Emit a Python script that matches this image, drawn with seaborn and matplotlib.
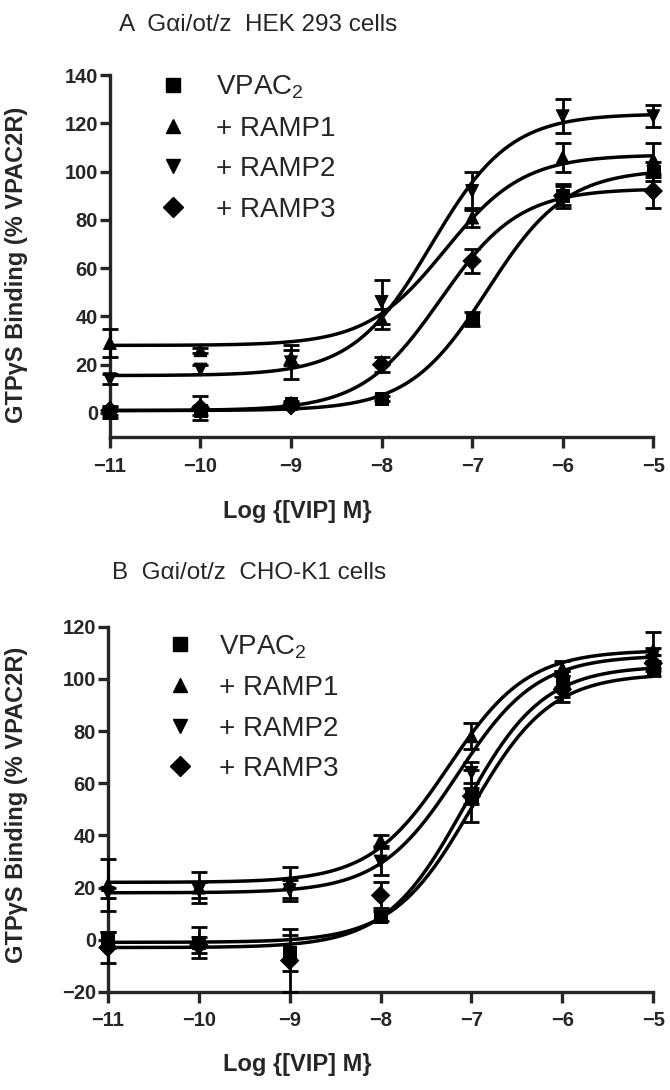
import numpy as np
import pandas as pd
import seaborn as sns
import matplotlib.pyplot as plt
from matplotlib.lines import Line2D

# Concentrations (log M) used in both experiments
log_vip = [-11, -10, -9, -8, -7, -6, -5]

series_names = ["VPAC2", "+ RAMP1", "+ RAMP2", "+ RAMP3"]
legend_labels = ["VPAC$_2$", "+ RAMP1", "+ RAMP2", "+ RAMP3"]
marker_map = {"VPAC2": "s", "+ RAMP1": "^", "+ RAMP2": "v", "+ RAMP3": "D"}

# Panel A - HEK 293 cells (mean, SEM)
hek_vpac2 = [0, 1, 4, 6, 39, 90, 100]
hek_ramp1 = [29, 26, 23, 39, 81, 106, 105]
hek_ramp2 = [14, 18, 21, 46, 92, 123, 123]
hek_ramp3 = [1, 2, 3, 20, 63, 90, 92]
hek_vpac2_sem = [2, 2, 1, 1, 3, 5, 4]
hek_ramp1_sem = [6, 1, 3, 4, 4, 6, 7]
hek_ramp2_sem = [2, 2, 7, 9, 8, 7, 4.5]
hek_ramp3_sem = [2, 5, 1, 3, 5, 4, 7]
# fitted curves: bottom, top, logEC50
hek_bottom = [1, 28, 15.5, 1]
hek_top = [101, 107, 124, 93]
hek_logec50 = [-6.83, -7.3, -7.45, -7.35]

# Panel B - CHO-K1 cells (mean, SEM)
cho_vpac2 = [0, -1, -5, 9, 55, 98, 104]
cho_ramp1 = [21, 20, 22, 38, 78, 104, 111]
cho_ramp2 = [18, 19, 19, 30, 64, 100, 109]
cho_ramp3 = [-3, -2, -8, 17, 55, 96, 106]
cho_vpac2_sem = [3, 6, 7, 2, 10, 5, 3]
cho_ramp1_sem = [10, 6, 6, 2, 5, 3, 7]
cho_ramp2_sem = [2, 3, 4, 5, 4, 3, 3]
cho_ramp3_sem = [6, 3, 12, 5, 3, 5, 3]
cho_bottom = [-1, 22, 18, -3]
cho_top = [102, 111, 109, 105]
cho_logec50 = [-7.0, -7.25, -7.15, -7.08]


def sigmoid(x, bottom, top, logec50):
    return bottom + (top - bottom) / (1 + 10 ** (logec50 - x))


def draw_panel(ax, means, sems, bottoms, tops, ec50s, ylim, yticks):
    points = pd.DataFrame({
        "log_vip": log_vip * 4,
        "binding": sum(means, []),
        "sem": sum(sems, []),
        "series": np.repeat(series_names, len(log_vip)),
    })

    x_fine = np.linspace(-11, -5, 200)
    curves = pd.concat([
        pd.DataFrame({
            "log_vip": x_fine,
            "binding": sigmoid(x_fine, b, t, e),
            "series": name,
        })
        for name, b, t, e in zip(series_names, bottoms, tops, ec50s)
    ])

    ax.errorbar(
        points["log_vip"], points["binding"], yerr=points["sem"],
        fmt="none", ecolor="black", elinewidth=2.0,
        capsize=5.5, capthick=2.0, clip_on=False, zorder=3
    )
    sns.lineplot(
        data=curves, x="log_vip", y="binding", units="series",
        estimator=None, color="black", lw=2.5, ax=ax, legend=False,
        zorder=4
    )
    sns.scatterplot(
        data=points, x="log_vip", y="binding", style="series",
        markers=marker_map, color="black", edgecolor="black", s=85,
        legend=False, ax=ax, clip_on=False, zorder=5
    )

    ax.set_xlim(-11, -5)
    ax.set_ylim(*ylim)
    ax.set_xticks(log_vip)
    ax.set_yticks(yticks)
    ax.set_xlabel("")
    ax.set_ylabel("")
    sns.despine(ax=ax)
    for side in ["left", "bottom"]:
        ax.spines[side].set_linewidth(2.4)
    ax.tick_params(axis="x", length=8, width=2.4, pad=6, labelsize=14.5)
    ax.tick_params(axis="y", length=7, width=2.4, pad=1.5, labelsize=14.5)
    for lab in ax.get_xticklabels() + ax.get_yticklabels():
        lab.set_fontweight("bold")


sns.set_style("ticks")
plt.rcParams["font.family"] = ["Liberation Sans", "DejaVu Sans"]
plt.rcParams["mathtext.fontset"] = "custom"
plt.rcParams["mathtext.rm"] = "Liberation Sans"

fig = plt.figure(figsize=(6.7, 10.9), dpi=100)
ax_a = fig.add_axes([0.164, 0.599, 0.811, 0.332])
ax_b = fig.add_axes([0.161, 0.090, 0.814, 0.335])

draw_panel(
    ax_a,
    [hek_vpac2, hek_ramp1, hek_ramp2, hek_ramp3],
    [hek_vpac2_sem, hek_ramp1_sem, hek_ramp2_sem, hek_ramp3_sem],
    hek_bottom, hek_top, hek_logec50,
    (-10, 140), range(0, 141, 20)
)
draw_panel(
    ax_b,
    [cho_vpac2, cho_ramp1, cho_ramp2, cho_ramp3],
    [cho_vpac2_sem, cho_ramp1_sem, cho_ramp2_sem, cho_ramp3_sem],
    cho_bottom, cho_top, cho_logec50,
    (-20, 120), range(-20, 121, 20)
)

handles = [
    Line2D([], [], marker=marker_map[n], color="black", linestyle="none",
           markersize=10.5)
    for n in series_names
]
for ax, anchor, pad in [(ax_a, (0.090, 1.005), 1.07), (ax_b, (0.106, 0.983), 0.93)]:
    ax.legend(
        handles, legend_labels, loc="upper left", bbox_to_anchor=anchor,
        frameon=False, fontsize=20, handlelength=1.0, handletextpad=pad,
        labelspacing=0.52, borderpad=0, borderaxespad=0
    )

fig.text(0.386, 0.977, "A  G\u03b1i/ot/z  HEK 293 cells",
         ha="center", va="center", fontsize=17.5)
fig.text(0.371, 0.474, "B  G\u03b1i/ot/z  CHO-K1 cells",
         ha="center", va="center", fontsize=17.5)

ylabel = "GTP\u03b3S Binding (% VPAC2R)"
fig.text(0.025, 0.757, ylabel, rotation=90, ha="center", va="center",
         fontsize=17, fontweight="bold")
fig.text(0.025, 0.262, ylabel, rotation=90, ha="center", va="center",
         fontsize=17, fontweight="bold")

fig.text(0.443, 0.531, "Log {[VIP] M}", ha="center", va="center",
         fontsize=17, fontweight="bold")
fig.text(0.443, 0.023, "Log {[VIP] M}", ha="center", va="center",
         fontsize=17, fontweight="bold")

fig.savefig("out.png", dpi=100)
